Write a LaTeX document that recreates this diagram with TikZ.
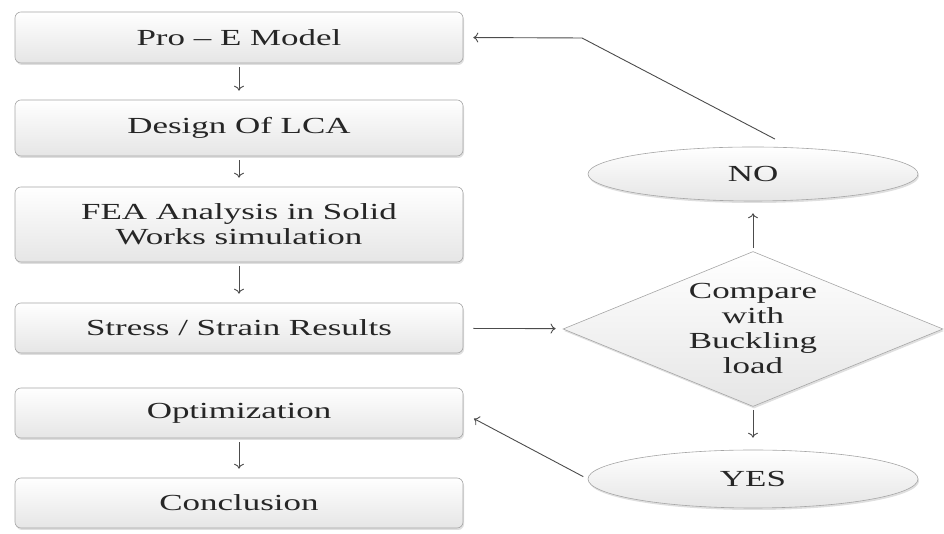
\documentclass[tikz,border=0pt]{standalone}
\usepackage{fontspec}
\setmainfont{Liberation Serif}[FakeStretch=1.52]
\usepackage{tikz}
\usetikzlibrary{shapes.geometric,shadows,arrows,arrows.meta}

\begin{document}
\begin{tikzpicture}[x=1pt, y=1pt, shorten >=9pt, shorten <=4pt, line width=0.9pt, >={To[length=5pt, width=10pt]}]
   \tikzstyle{every node} = [font=\fontsize{23}{25}\selectfont, text=black!85, align=center];
   \tikzstyle{look} = [draw=black!35, line width=0.6pt, top color=white, bottom color=black!10,
                       drop shadow={opacity=0.25, shadow xshift=1pt, shadow yshift=-2pt}];
   \tikzstyle{stepbox} = [look, rectangle, rounded corners=6pt, minimum width=448pt, minimum height=50pt];
   \tikzstyle{answer} = [look, ellipse, minimum width=330pt, minimum height=54pt];
   \tikzstyle{decision} = [look, diamond, minimum width=380pt, minimum height=155pt, inner sep=0pt];
   \tikzstyle{link} = [->, draw=black!70];
   \useasboundingbox (0,0) rectangle (944,534);
   % left column
   \node[stepbox, minimum height=51pt] (pro) at (239,496.5) {Pro -- E Model};
   \node[stepbox, minimum height=56pt] (design) [below of = pro, node distance=90.5pt] {Design Of LCA};
   \node[stepbox, minimum height=75pt] (fea) [below of = design, node distance=96.5pt] {FEA Analysis in Solid\\Works simulation};
   \node[stepbox] (stress) [below of = fea, node distance=103.5pt] {Stress / Strain Results};
   \node[stepbox] (opt) [below of = stress, node distance=85pt] {Optimization};
   \node[stepbox] (concl) [below of = opt, node distance=90pt] {Conclusion};
   % right column
   \node[decision, label={[align=center]center:Compare\\with\\Buckling\\load}] (cmp) at (753,205) {};
   \node[answer] (no) [above of = cmp, node distance=155pt] {NO};
   \node[answer, minimum height=58pt] (yes) [below of = cmp, node distance=150pt] {YES};
   \path[link] (pro) edge (design);
   \path[link] (design) edge (fea);
   \path[link] (fea) edge (stress);
   \path[link] (opt) edge (concl);
   \path[link, shorten <=10pt, shorten >=8pt] (stress) edge (cmp);
   \path[link, shorten <=3pt, shorten >=12pt] (cmp) edge (no);
   \path[link, shorten <=3pt, shorten >=12pt] (cmp) edge (yes);
   \coordinate (knee) at (582,496);
   \draw[link, shorten <=18pt, shorten >=10pt] (no.35) -- (knee) -- (pro.east);
   \draw[link, shorten <=5pt, shorten >=12pt] (yes.west) -- (opt.east);
\end{tikzpicture}
\end{document}
